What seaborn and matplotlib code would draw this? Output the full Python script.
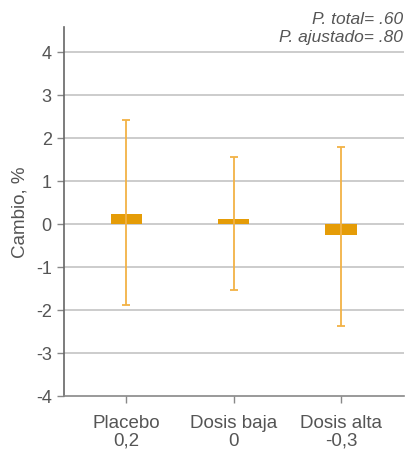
import numpy as np
import pandas as pd
import matplotlib
matplotlib.use('Agg')
import matplotlib.pyplot as plt
import seaborn as sns

# data
grupos = ['Placebo', 'Dosis baja', 'Dosis alta']
etiquetas = ['0,2', '0', '-0,3']
cambio = [0.23, 0.12, -0.27]
ic_inf = [-1.89, -1.54, -2.37]
ic_sup = [2.40, 1.54, 1.79]

BAR = '#e59c07'
ERR = '#f2b245'
TXT = '#555555'

sns.set_theme(style='white')
plt.rcParams['font.family'] = ['Liberation Sans', 'DejaVu Sans']

df = pd.DataFrame({'grupo': grupos, 'cambio': cambio})

fig = plt.figure(figsize=(4.06, 4.52), dpi=100)
ax = fig.add_axes([0.158, 0.122, 0.837, 0.816])

sns.barplot(data=df, x='grupo', y='cambio', color=BAR, width=0.29,
            saturation=1, errorbar=None, linewidth=0, ax=ax, zorder=3)

x = np.arange(len(grupos))
err = [np.array(cambio) - np.array(ic_inf), np.array(ic_sup) - np.array(cambio)]
ax.errorbar(x, cambio, yerr=err, fmt='none', ecolor=ERR, elinewidth=1.3,
            capsize=3.2, capthick=1.3, zorder=4)

ax.set_ylim(-4, 4.57)
ax.set_xlim(-0.577, 2.586)
ax.set_yticks(range(-4, 5))
ax.set_yticklabels([str(v) for v in range(-4, 5)], fontsize=13, color=TXT)
for v in range(-3, 5):
    ax.axhline(v, color='#c4c4c4', lw=1.2, zorder=1)

ax.set_xticks(x)
ax.set_xticklabels([f'{g}\n{e}' for g, e in zip(grupos, etiquetas)],
                   fontsize=13.5, color=TXT, linespacing=1.05)
ax.tick_params(axis='x', bottom=True, length=5, width=1, color='#888888', pad=8)
ax.tick_params(axis='y', left=True, length=5, width=1, color='#888888', pad=4)
ax.set_xlabel('')
ax.set_ylabel('Cambio, %', fontsize=13.5, color=TXT, labelpad=5)

for s in ['top', 'right']:
    ax.spines[s].set_visible(False)
ax.spines['left'].set_color('#666666')
ax.spines['bottom'].set_color('#888888')
ax.spines['left'].set_linewidth(1.2)
ax.spines['bottom'].set_linewidth(1.2)

fig.text(0.993, 0.957, 'P. total= .60', ha='right', va='center',
         fontsize=12.5, style='italic', color=TXT)
fig.text(0.993, 0.917, 'P. ajustado= .80', ha='right', va='center',
         fontsize=12.5, style='italic', color=TXT)

fig.savefig('out.png', dpi=100)
